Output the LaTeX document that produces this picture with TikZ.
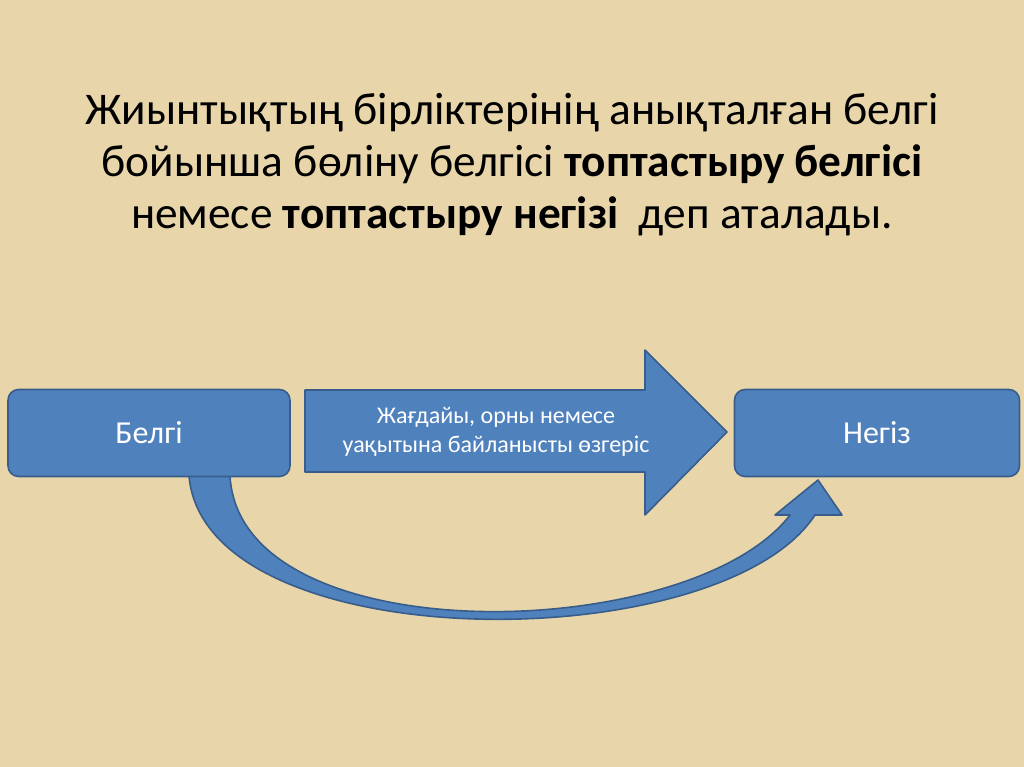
\documentclass[tikz,border=0pt]{standalone}
\usepackage{fontspec}
\setmainfont{Carlito}
\begin{document}
\begin{tikzpicture}[x=0.75pt,y=-0.75pt,
  bx/.style={draw=blue2,line width=1.2pt,fill=blue1,rounded corners=8pt,text=white,font=\fontsize{24}{28}\selectfont},
  shp/.style={draw=blue2,line width=1.2pt,fill=blue1,line join=round}]
\definecolor{blue1}{HTML}{4F81BD}\definecolor{blue2}{HTML}{385D8A}
\fill[color={rgb,255:red,232;green,214;blue,170}] (0,0) rectangle (1024,767);
\useasboundingbox (0,0) rectangle (1024,767);
\node[align=center,font=\fontsize{34}{39}\selectfont] (t) at (512,165) {Жиынтықтың бірліктерінің анықталған белгі\\бойынша бөліну белгісі \textbf{топтастыру белгісі}\\немесе \textbf{топтастыру негізі}\ \ деп аталады.};
\draw[shp] (305,390) -- (645,390) -- (645,350) -- (727,432) -- (645,515) -- (645,472) -- (305,472) -- cycle;
\node[text=white,align=center,font=\fontsize{18}{22}\selectfont] (m) at (496,432) {Жағдайы, орны немесе\\уақытына байланысты өзгеріс};
\draw[shp] (189,476) .. controls (205,660) and (720,660) .. (815,515) -- (842,515) -- (818,480) -- (775,515) -- (790,515) .. controls (690,645) and (240,655) .. (230,476) -- cycle;
\node[bx,minimum width=282pt*0.75,minimum height=87pt*0.75] (a) at (149,433) {Белгі};
\node[bx,minimum width=285pt*0.75,minimum height=87pt*0.75] (b) at (877,433) {Негіз};
\end{tikzpicture}
\end{document}
